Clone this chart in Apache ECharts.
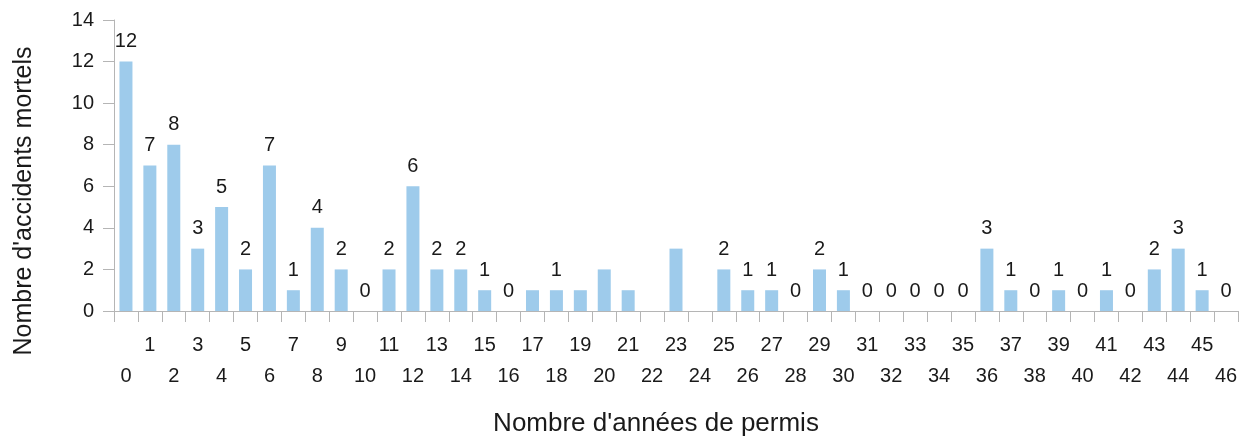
<!DOCTYPE html>
<html>
<head>
<meta charset="utf-8">
<script src="https://cdn.jsdelivr.net/npm/echarts@6/dist/echarts.min.js"></script>
<style>
  html, body { margin: 0; padding: 0; background: #fff; }
  #main { width: 1244px; height: 436px; }
</style>
</head>
<body>
<div id="main"></div>
<script>
// années de permis 0..46
const years = [];
for (let i = 0; i <= 46; i++) years.push(String(i));

// nombre d'accidents mortels (null = pas de barre)
const accidents = [12, 7, 8, 3, 5, 2, 7, 1, 4, 2, 0, 2, 6, 2, 2, 1, 0, 1, 1, 1, 2, 1, null, 3, null,
  2, 1, 1, 0, 2, 1, 0, 0, 0, 0, 0, 3, 1, 0, 1, 0, 1, 0, 2, 3, 1, 0];

// étiquettes affichées au-dessus des barres (null = pas d'étiquette)
const valueLabels = ['12', '7', '8', '3', '5', '2', '7', '1', '4', '2', '0', '2', '6', '2', '2', '1', '0', null, '1', null, null, null, null, null, null,
  '2', '1', '1', '0', '2', '1', '0', '0', '0', '0', '0', '3', '1', '0', '1', '0', '1', '0', '2', '3', '1', '0'];

const yTicks = [0, 2, 4, 6, 8, 10, 12, 14];

const font = 'Liberation Sans, Arial, sans-serif';
const textColor = '#1a1a1a';
const axisColor = '#b5b5b5';

const chart = echarts.init(document.getElementById('main'));

const option = {
    animation: false,
    grid: { left: 114, right: 6, top: 20, bottom: 125 },
    xAxis: {
        type: 'category',
        data: years,
        axisLine: { lineStyle: { color: axisColor, width: 1 } },
        axisTick: { show: true, length: 11, lineStyle: { color: axisColor } },
        axisLabel: {
            interval: 0,
            margin: 19,
            color: textColor,
            fontFamily: font,
            fontSize: 20,
            lineHeight: 31,
            verticalAlign: 'top',
            formatter: (v) => (Number(v) % 2 === 1 ? v : '\n' + v)
        }
    },
    yAxis: {
        type: 'value',
        min: yTicks[0],
        max: yTicks[yTicks.length - 1],
        interval: 2,
        splitLine: { show: false },
        axisLine: { show: true, lineStyle: { color: axisColor, width: 1 } },
        axisTick: { show: true, length: 11, lineStyle: { color: axisColor } },
        axisLabel: {
            margin: 20,
            color: textColor,
            fontFamily: font,
            fontSize: 20
        }
    },
    graphic: [
        {
            type: 'text',
            x: 656,
            y: 424,
            style: {
                text: "Nombre d'années de permis",
                fill: textColor,
                font: '26px ' + font,
                align: 'center',
                verticalAlign: 'middle'
            }
        },
        {
            type: 'text',
            x: 24,
            y: 201,
            rotation: Math.PI / 2,
            style: {
                text: "Nombre d'accidents mortels",
                fill: textColor,
                font: '25px ' + font,
                align: 'center',
                verticalAlign: 'middle'
            }
        }
    ],
    series: [
        {
            type: 'bar',
            data: accidents,
            barWidth: 13,
            itemStyle: { color: '#9ecbeb' },
            label: {
                show: true,
                position: 'top',
                distance: 10,
                color: textColor,
                fontFamily: font,
                fontSize: 20,
                formatter: (p) => valueLabels[p.dataIndex] || ''
            }
        }
    ]
};

chart.setOption(option);
</script>
</body>
</html>
